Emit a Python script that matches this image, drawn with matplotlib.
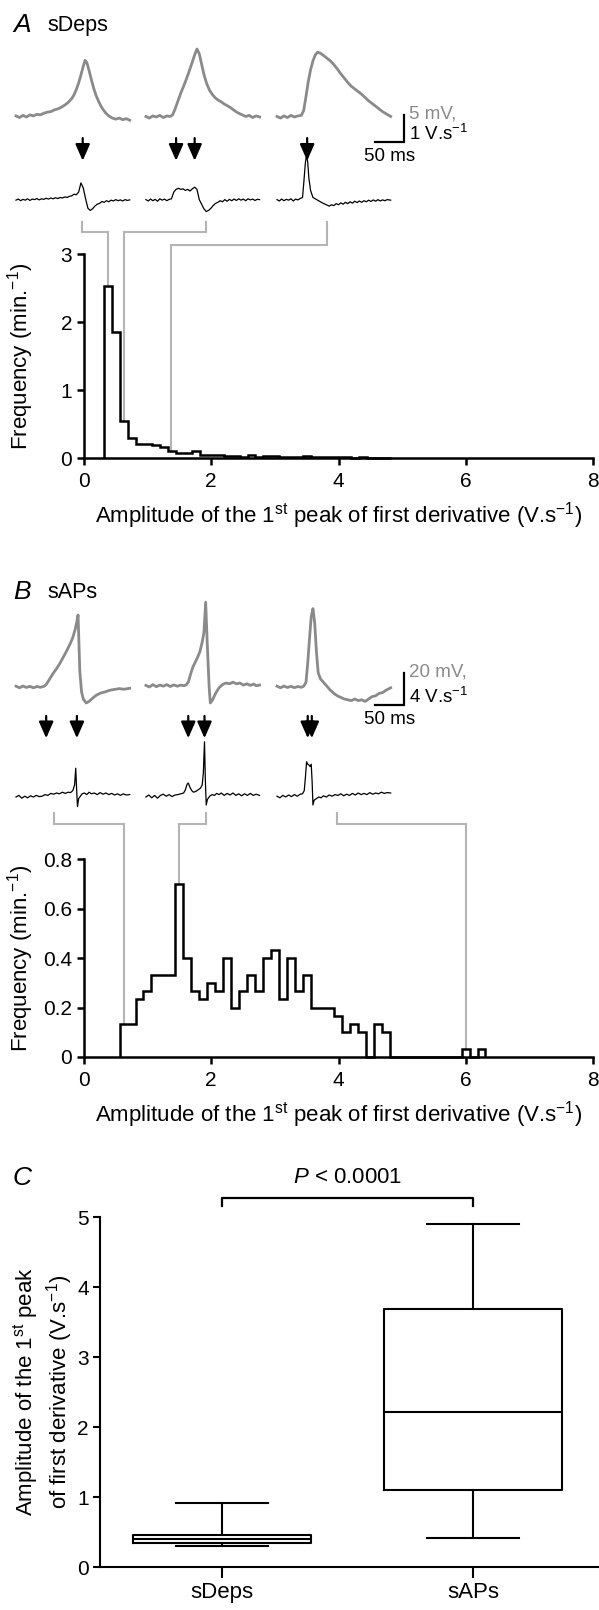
import numpy as np
import matplotlib
matplotlib.use('Agg')
import matplotlib.pyplot as plt
from matplotlib.lines import Line2D

plt.rcParams['font.family'] = ['Liberation Sans', 'DejaVu Sans']
plt.rcParams['mathtext.fontset'] = 'custom'
plt.rcParams['mathtext.rm'] = 'Liberation Sans'
plt.rcParams['mathtext.it'] = 'Liberation Sans:italic'
plt.rcParams['mathtext.bf'] = 'Liberation Sans:bold'

# ---------------- DATA ----------------
# Panel A: sDeps example traces (time ms, membrane potential mV)
A_trace1 = [(0,0.2),(6,-0.1),(12,0.3),(18,0.0),(24,0.4),(30,0.2),(36,0.5),(42,0.4),(48,0.7),(54,0.9),
            (60,1.0),(66,1.3),(72,1.5),(78,1.8),(84,2.2),(90,2.7),(96,3.4),(100,4.1),(104,5.1),(108,6.3),
            (112,7.8),(116,9.4),(119,10.5),(122,10.1),(126,8.6),(130,6.9),(134,5.3),(138,4.0),(142,3.0),(146,2.1),
            (150,1.4),(155,0.7),(160,0.2),(166,-0.2),(172,-0.4),(178,-0.2),(184,-0.5),(190,-0.3),(196,-0.6)]
A_trace2 = [(0,0.1),(6,-0.2),(12,0.2),(18,0.0),(24,0.3),(30,-0.1),(36,0.2),(42,0.1),(46,0.4),(50,1.4),
            (55,2.9),(60,4.4),(65,5.7),(70,7.1),(75,8.6),(80,10.2),(85,11.8),(88,12.6),(92,11.7),(96,9.8),
            (100,7.9),(105,6.1),(110,4.9),(115,4.1),(120,3.5),(125,3.1),(130,2.8),(135,2.4),(140,2.1),(145,1.8),
            (150,1.4),(155,1.0),(160,0.7),(166,0.4),(172,0.1),(178,0.3),(184,-0.1),(190,0.2),(196,0.0)]
A_trace3 = [(0,0.1),(6,-0.2),(12,0.2),(18,-0.1),(24,0.3),(30,0.0),(36,0.2),(42,0.3),(46,1.2),(50,3.8),
            (54,6.6),(58,8.8),(62,10.4),(66,11.5),(70,12.0),(75,11.8),(80,11.4),(86,10.9),(92,10.4),(98,9.7),
            (104,8.9),(110,8.0),(116,7.2),(122,6.4),(128,5.7),(134,5.2),(140,4.7),(146,4.2),(152,3.6),(158,3.0),
            (164,2.5),(170,2.0),(176,1.5),(182,1.0),(188,0.6),(196,0.1)]
# first derivatives (time ms, V/s)
A_deriv1 = [(0,0.00),(4,0.04),(8,-0.02),(12,0.03),(16,0.00),(20,0.05),(24,-0.01),(28,0.04),(32,0.02),(36,0.06),
            (40,0.01),(44,0.05),(48,0.03),(52,0.07),(56,0.04),(60,0.08),(64,0.05),(68,0.09),(72,0.06),(76,0.10),
            (80,0.08),(84,0.12),(88,0.10),(92,0.14),(96,0.16),(100,0.22),(104,0.20),(108,0.30),(112,0.64),(116,0.45),
            (120,0.05),(124,-0.30),(128,-0.38),(132,-0.32),(136,-0.22),(140,-0.15),(144,-0.12),(148,-0.05),(152,-0.08),
            (156,-0.02),(160,-0.06),(164,0.00),(168,-0.03),(172,0.02),(176,-0.02),(180,0.01),(184,-0.03),(188,0.02),
            (192,-0.01),(196,0.01)]
A_deriv2 = [(0,0.02),(4,-0.03),(8,0.04),(12,-0.02),(16,0.03),(20,-0.04),(24,0.05),(28,0.00),(32,0.04),(36,-0.02),
            (40,0.03),(44,0.05),(48,0.30),(52,0.40),(56,0.44),(60,0.40),(64,0.42),(68,0.36),(72,0.40),(76,0.34),
            (80,0.42),(84,0.48),(88,0.40),(92,0.02),(96,-0.15),(100,-0.32),(104,-0.42),(108,-0.38),(112,-0.30),
            (116,-0.20),(120,-0.12),(124,-0.08),(128,-0.02),(132,-0.06),(136,0.02),(140,-0.04),(144,0.03),(148,-0.02),
            (152,0.04),(156,-0.01),(160,0.05),(164,0.00),(168,0.04),(172,-0.02),(176,0.05),(180,0.01),(184,0.04),
            (188,-0.01),(192,0.03),(196,0.02)]
A_deriv3 = [(0,0.02),(4,-0.03),(8,0.04),(12,-0.02),(16,0.03),(20,0.00),(24,0.05),(28,-0.03),(32,0.04),(36,0.01),
            (40,0.06),(44,0.10),(46,0.60),(49,1.40),(51,1.67),(53,1.40),(55,0.80),(58,0.35),(62,0.10),(66,0.05),
            (70,0.00),(74,-0.05),(78,-0.10),(82,-0.14),(86,-0.18),(90,-0.22),(94,-0.17),(98,-0.20),(102,-0.13),
            (106,-0.17),(110,-0.10),(114,-0.15),(118,-0.08),(122,-0.13),(126,-0.06),(130,-0.11),(134,-0.04),
            (138,-0.09),(142,-0.03),(146,-0.08),(150,-0.02),(154,-0.06),(158,0.00),(162,-0.05),(166,0.01),
            (170,-0.04),(174,0.02),(178,-0.03),(182,0.01),(186,-0.02),(190,0.02),(196,0.00)]
A_arrow_times = [[115], [52, 84], [52]]          # ms within each trace

# Panel B: sAPs example traces
B_trace1 = [(0,0.5),(6,-0.5),(12,0.6),(18,-0.3),(24,0.4),(30,-0.5),(36,0.3),(42,-0.2),(48,0.4),(52,1.5),
            (58,5),(64,8.5),(70,11.5),(76,15),(82,19),(88,23),(94,27.5),(98,31),(102,36),(105,41),(107,45),
            (110,10),(113,-3),(116,-7.5),(121,-10),(126,-9),(132,-7),(139,-5),(146,-3.8),(154,-3),(162,-2),
            (170,-1.5),(178,-1),(186,-1.4),(196,-0.8)]
B_trace2 = [(0,1),(6,0),(12,1.5),(18,0.2),(24,1.2),(30,0.5),(36,1.5),(42,0.3),(48,1.3),(54,0.5),(60,1.2),
            (66,0.8),(70,1.5),(73,3),(77,8),(81,12.5),(85,15.5),(89,18.5),(93,22),(97,28),(100,34),(103,53),
            (106,25),(109,0),(111,-10),(115,-8),(120,-4),(126,-0.5),(132,1.5),(138,2.5),(144,2),(150,3),(156,2),
            (162,2.5),(168,1.2),(174,2),(180,1),(186,1.8),(190,0.8),(196,1.2)]
B_trace3 = [(0,0.5),(6,-0.5),(12,0.6),(18,-0.3),(24,0.4),(30,-0.4),(36,0.3),(42,-0.2),(46,0.5),(50,3),
            (53,15),(56,30),(59,44),(62,49),(65,40),(68,22),(71,9),(75,5),(80,3),(86,0.5),(92,-2),(98,-4),
            (104,-5.5),(110,-6.5),(116,-7.5),(122,-8),(128,-8.5),(134,-7.5),(140,-8.5),(146,-8),(152,-9),
            (158,-7.5),(164,-6),(170,-5.5),(176,-4),(182,-3.5),(188,-2),(196,-0.5)]
B_deriv1 = [(0,0.0),(5,0.2),(10,-0.15),(15,0.1),(20,-0.1),(25,0.15),(30,0.0),(35,0.2),(40,0.05),(45,0.1),
            (50,0.3),(55,0.2),(60,0.45),(65,0.35),(70,0.5),(75,0.4),(80,0.6),(85,0.45),(90,0.6),(94,0.55),
            (98,0.8),(101,1.5),(103,3.6),(104.5,1.0),(106,-1.2),(108,-0.2),(111,0.1),(114,0.4),(118,0.5),
            (122,0.3),(126,0.6),(130,0.4),(135,0.5),(140,0.3),(145,0.55),(150,0.35),(155,0.5),(160,0.3),
            (165,0.45),(170,0.25),(175,0.4),(180,0.2),(185,0.4),(190,0.25),(196,0.3)]
B_deriv2 = [(0,0.0),(5,0.25),(10,-0.1),(15,0.2),(20,-0.15),(25,0.2),(30,0.35),(35,0.1),(40,0.3),(45,0.05),
            (50,0.25),(55,0.3),(60,0.4),(65,0.5),(68,0.9),(71,1.6),(73,1.75),(76,1.2),(79,0.8),(82,0.6),
            (86,0.7),(90,0.9),(94,1.1),(97,1.5),(99,3.0),(101,6.9),(102.5,2.0),(104,-1.0),(106,-0.3),(110,0.1),
            (114,0.3),(118,0.2),(122,0.45),(126,0.3),(130,0.5),(135,0.2),(140,0.45),(145,0.25),(150,0.5),
            (155,0.2),(160,0.4),(165,0.15),(170,0.4),(175,0.2),(180,0.45),(185,0.2),(190,0.35),(196,0.2)]
B_deriv3 = [(0,0.1),(5,-0.1),(10,0.2),(15,0.0),(20,0.25),(25,0.05),(30,0.3),(35,0.1),(40,0.35),(44,0.4),
            (47,0.8),(49,2.5),(51,4.4),(53,4.1),(55,4.0),(57,3.8),(59,4.1),(60.5,2.0),(62,-1.0),(64,-0.4),
            (68,-0.2),(72,0.0),(76,-0.1),(80,0.15),(85,0.0),(90,0.25),(95,0.1),(100,0.3),(105,0.2),(110,0.4),
            (115,0.15),(120,0.35),(125,0.2),(130,0.45),(135,0.25),(140,0.5),(145,0.3),(150,0.45),(155,0.3),
            (160,0.55),(165,0.35),(170,0.5),(175,0.4),(180,0.6),(185,0.45),(190,0.55),(196,0.5)]
B_arrow_times = [[52, 105], [73, 101], [53, 60]]

# Histograms (amplitude of 1st peak of first derivative, V/s; frequency, min^-1)
A_bin_start, A_bin_width = 0.32, 0.125
A_freq = [2.53, 1.86, 0.55, 0.30, 0.21, 0.21, 0.19, 0.16, 0.11, 0.07, 0.08, 0.11, 0.05, 0.05, 0.04,
          0.03, 0.03, 0.02, 0.04, 0.02, 0.03, 0.03, 0.02, 0.02, 0.01, 0.03, 0.02, 0.01, 0.01, 0.01,
          0.01, 0.005, 0.01, 0.005, 0.005, 0.005]
B_bin_start, B_bin_width = 0.56, 0.125
B_freq = [0.133, 0.133, 0.233, 0.267, 0.333, 0.333, 0.333, 0.700, 0.400, 0.267, 0.233, 0.300, 0.267,
          0.400, 0.200, 0.267, 0.333, 0.267, 0.400, 0.433, 0.233, 0.400, 0.267, 0.333, 0.200, 0.200,
          0.200, 0.167, 0.100, 0.133, 0.100, 0.000, 0.133, 0.100, 0, 0, 0, 0, 0, 0, 0, 0, 0, 0.033, 0, 0.033]
hist_xticks = [0, 2, 4, 6, 8]
A_yticks = [0, 1, 2, 3]
B_yticks = [0, 0.2, 0.4, 0.6, 0.8]
B_yticklabels = ['0', '0.2', '0.4', '0.6', '0.8']

# Links from example traces to histogram bins: (trace idx, time ms, amplitude, frequency)
A_links = [(0, 114, 0.38, 2.53), (1, 104, 0.63, 0.55), (2, 86, 1.37, 0.11)]
B_links = [(0, 65, 0.63, 0.133), (1, 104, 1.49, 0.70), (2, 104, 6.00, 0.033)]

# Panel C box plot
C_groups = ['sDeps', 'sAPs']
C_whislo = [0.30, 0.42]
C_q1 = [0.35, 1.10]
C_med = [0.405, 2.22]
C_q3 = [0.46, 3.68]
C_whishi = [0.914, 4.90]
C_yticks = [0, 1, 2, 3, 4, 5]

# ---------------- FIGURE ----------------
W, H = 599, 1610
fig = plt.figure(figsize=(W / 100, H / 100), dpi=100)
GRAY = '#8a8a8a'
LINK = '#b4b4b4'
TICK_FS = 15
LAB_FS = 16
PX = 0.72  # points per pixel at 100 dpi


def px_axes(x0, y0, x1, y1):
    ax = fig.add_axes([x0 / W, 1 - y1 / H, (x1 - x0) / W, (y1 - y0) / H])
    ax.patch.set_visible(False)
    return ax


def trace_axes(y0, y1, base_px, px_per_unit, x_origin=16, px_per_ms=0.58):
    ax = px_axes(0, y0, W, y1)
    ax.set_xlim((0 - x_origin) / px_per_ms, (W - x_origin) / px_per_ms)
    ax.set_ylim((base_px - y1) / px_per_unit, (base_px - y0) / px_per_unit)
    ax.set_axis_off()
    return ax

TRACE_OFFSETS = [0, 224, 450]  # ms, horizontal placement of the three examples
DERIV_SCALE = 5.0               # 1 V/s drawn as 5 mV (shared scale bar)


def draw_examples(ax, traces, derivs, arrows, deriv_base, arrow_top, arrow_tip):
    for off, tr, dv, arr in zip(TRACE_OFFSETS, traces, derivs, arrows):
        t, v = np.array(tr).T
        ax.plot(t + off, v, color=GRAY, lw=2.0, solid_joinstyle='round')
        td, d = np.array(dv).T
        ax.plot(td + off, deriv_base + DERIV_SCALE * d, color='black', lw=0.9)
        for at in arr:
            ax.annotate('', xy=(at + off, arrow_tip), xytext=(at + off, arrow_top),
                        arrowprops=dict(arrowstyle='-|>,head_length=0.5,head_width=0.22',
                                        mutation_scale=20, color='black', lw=1.6,
                                        shrinkA=0, shrinkB=0))


def scale_bar(ax, t_end, y_low, ms, mv, top_txt, bot_txt):
    ax.plot([t_end - ms, t_end, t_end], [y_low, y_low, y_low + mv], color='black', lw=1.6,
            solid_joinstyle='miter')
    ax.annotate(top_txt, xy=(t_end, y_low + mv), xytext=(5 * PX, 1 * PX), textcoords='offset points',
                color=GRAY, fontsize=13.5, ha='left', va='center')
    ax.annotate(bot_txt, xy=(t_end, y_low), xytext=(5 * PX, 8 * PX), textcoords='offset points',
                color='black', fontsize=13.5, ha='left', va='center')
    ax.annotate('50 ms', xy=(t_end - ms / 2, y_low), xytext=(0, -15 * PX), textcoords='offset points',
                color='black', fontsize=13.5, ha='center', va='center')


def style_hist(ax, yticks, yticklabels, ymax, ax_h_px):
    ax.set_xlim(0, 8)
    ax.set_ylim(0, ymax)
    for s in ['top', 'right']:
        ax.spines[s].set_visible(False)
    for s in ['left', 'bottom']:
        ax.spines[s].set_linewidth(1.8)
    ax.set_xticks(hist_xticks)
    ax.set_xticklabels([str(x) for x in hist_xticks])
    ax.set_yticks(yticks)
    ax.set_yticklabels(yticklabels)
    ax.tick_params(axis='both', length=5, width=1.8, labelsize=TICK_FS)
    ax.tick_params(axis='x', pad=5)
    ax.tick_params(axis='y', pad=3.5)
    ax.set_xlabel('Amplitude of the 1$^{\\mathrm{st}}$ peak of first derivative (V.s$^{-1}$)',
                  fontsize=LAB_FS)
    ax.set_ylabel('Frequency (min.$^{-1}$)', fontsize=LAB_FS)
    ax.xaxis.set_label_coords(0.5, -42 / ax_h_px)
    ax.yaxis.set_label_coords(-48 / 509, 0.5)


def link(ax_tr, ax_h, t, y_start, y_mid, x_end, y_end):
    p0 = ax_tr.transData.transform((t, y_start))
    pm = ax_tr.transData.transform((t, y_mid))
    pe = ax_h.transData.transform((x_end, y_end))
    pts = np.array([p0, (p0[0], pm[1]), (pe[0], pm[1]), pe])
    f = fig.transFigure.inverted().transform(pts)
    fig.add_artist(Line2D(f[:, 0], f[:, 1], transform=fig.transFigure, color=LINK, lw=1.5,
                          zorder=-1, solid_joinstyle='miter'))

# ---- Panel A ----
fig.text(13 / W, 1 - 25 / H, 'A', fontsize=19, style='italic', ha='left', va='center')
fig.text(47 / W, 1 - 25 / H, 'sDeps', fontsize=15.5, ha='left', va='center')
axA_tr = trace_axes(35, 250, base_px=117, px_per_unit=5.4)
draw_examples(axA_tr, [A_trace1, A_trace2, A_trace3], [A_deriv1, A_deriv2, A_deriv3],
              A_arrow_times, deriv_base=-15.4, arrow_top=-3.9, arrow_tip=-8.1)
scale_bar(axA_tr, t_end=669, y_low=-4.6, ms=50, mv=5, top_txt='5 mV,', bot_txt='1 V.s$^{-1}$')

axA = px_axes(84, 254, 593, 458)
axA.stairs(A_freq, A_bin_start + A_bin_width * np.arange(len(A_freq) + 1), color='black',
           lw=1.8, baseline=0, clip_on=False)
style_hist(axA, A_yticks, [str(y) for y in A_yticks], 3, 204)

for (i, t, amp, fr) in A_links:
    y_mid = -21.3 if i < 2 else -23.7
    link(axA_tr, axA, t + TRACE_OFFSETS[i], -19.4, y_mid, amp, fr)

# ---- Panel B ----
fig.text(13 / W, 1 - 592 / H, 'B', fontsize=19, style='italic', ha='left', va='center')
fig.text(47 / W, 1 - 592 / H, 'sAPs', fontsize=15.5, ha='left', va='center')
axB_tr = trace_axes(570, 830, base_px=687, px_per_unit=1.6)
draw_examples(axB_tr, [B_trace1, B_trace2, B_trace3], [B_deriv1, B_deriv2, B_deriv3],
              B_arrow_times, deriv_base=-68.75, arrow_top=-18.1, arrow_tip=-32.0)
scale_bar(axB_tr, t_end=669, y_low=-11.25, ms=50, mv=20, top_txt='20 mV,', bot_txt='4 V.s$^{-1}$')

axB = px_axes(84, 859, 593, 1057)
axB.stairs(B_freq, B_bin_start + B_bin_width * np.arange(len(B_freq) + 1), color='black',
           lw=1.8, baseline=0, clip_on=False)
style_hist(axB, B_yticks, B_yticklabels, 0.8, 198)

for (i, t, amp, fr) in B_links:
    link(axB_tr, axB, t + TRACE_OFFSETS[i], -78.75, -85.6, amp, fr)

# ---- Panel C ----
fig.text(13 / W, 1 - 1178 / H, 'C', fontsize=19, style='italic', ha='left', va='center')
axC = px_axes(100, 1217, W, 1567)
stats = [dict(med=m, q1=a, q3=b, whislo=lo, whishi=hi, label=g)
         for g, lo, a, m, b, hi in zip(C_groups, C_whislo, C_q1, C_med, C_q3, C_whishi)]
lp = dict(color='black', lw=1.5)
axC.bxp(stats, positions=[0, 1], widths=0.713, capwidths=0.364, showfliers=False,
        boxprops=lp, medianprops=lp, whiskerprops=lp, capprops=lp)
axC.set_xlim(-0.486, 1.502)
axC.set_ylim(0, 5)
for s in ['top', 'right']:
    axC.spines[s].set_visible(False)
for s in ['left', 'bottom']:
    axC.spines[s].set_linewidth(1.5)
axC.set_yticks(C_yticks)
axC.set_yticklabels([str(y) for y in C_yticks])
axC.set_xticks([0, 1])
axC.set_xticklabels(C_groups)
axC.tick_params(axis='y', length=5, width=1.5, labelsize=TICK_FS, pad=3)
axC.tick_params(axis='x', length=8, width=1.5, labelsize=LAB_FS, pad=3)
axC.set_ylabel('Amplitude of the 1$^{\\mathrm{st}}$ peak\nof first derivative (V.s$^{-1}$)',
               fontsize=LAB_FS, linespacing=1.2)
axC.yaxis.set_label_coords(-25 / 499, 0.5)
bracket_lo, bracket_hi = 5.16, 5.27
axC.plot([0, 0, 1, 1], [bracket_lo, bracket_hi, bracket_hi, bracket_lo], color='black', lw=1.6,
         clip_on=False)
axC.text(0.5, 5.57, '$P$ < 0.0001', fontsize=LAB_FS, ha='center', va='center')

fig.savefig('out.png', dpi=100)
